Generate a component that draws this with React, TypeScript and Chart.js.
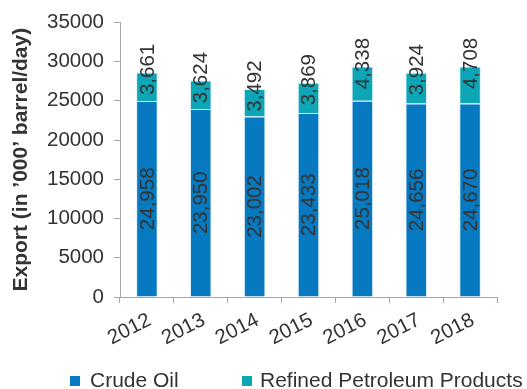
import React, { useEffect, useRef } from "react";
import { Chart, registerables } from "chart.js";

Chart.register(...registerables);

const years = ["2012", "2013", "2014", "2015", "2016", "2017", "2018"];
const crudeOil = [24958, 23950, 23002, 23433, 25018, 24656, 24670];
const refinedProducts = [3661, 3624, 3492, 3869, 4338, 3924, 4708];
const seriesNames = ["Crude Oil", "Refined Petroleum Products"];
const yMin = 0;
const yMax = 35000;
const yStep = 5000;
const yTitle = "Export (in \u2019000\u2019 barrel/day)";

const CRUDE = "#0779c1";
const REFINED = "#0ca6b6";
const AXIS = "#a6a6a6";
const TEXT = "#333333";
const FONT = "'Liberation Sans', Arial, Helvetica, sans-serif";

const barLabels = {
  id: "barLabels",
  afterDatasetsDraw(chart: any) {
    const ctx = chart.ctx;
    ctx.save();
    ctx.font = `20.5px ${FONT}`;
    ctx.fillStyle = TEXT;
    ctx.textAlign = "center";
    ctx.textBaseline = "middle";
    chart.data.datasets.forEach((ds: any, di: number) => {
      const meta = chart.getDatasetMeta(di);
      meta.data.forEach((bar: any, i: number) => {
        const { x, y, base } = bar.getProps(["x", "y", "base"], true);
        const v = ds.data[i] as number;
        const cy = di === 0 ? (y + base) / 2 : y - 3;
        ctx.save();
        ctx.translate(x + 1, cy);
        ctx.rotate(-Math.PI / 2);
        ctx.fillText(v.toLocaleString("en-US"), 0, 0);
        ctx.restore();
      });
    });
    ctx.restore();
  },
};

export default function App() {
  const ref = useRef<HTMLCanvasElement>(null);

  useEffect(() => {
    if (!ref.current) return;
    const chart = new Chart(ref.current, {
      type: "bar",
      data: {
        labels: years,
        datasets: [
          {
            label: seriesNames[0],
            data: crudeOil,
            backgroundColor: CRUDE,
            borderColor: "rgba(190,225,245,0.6)",
            borderWidth: 1,
            barPercentage: 0.4,
            categoryPercentage: 1,
          },
          {
            label: seriesNames[1],
            data: refinedProducts,
            backgroundColor: REFINED,
            borderColor: "rgba(190,225,245,0.6)",
            borderWidth: 1,
            barPercentage: 0.4,
            categoryPercentage: 1,
          },
        ],
      },
      options: {
        responsive: false,
        animation: false,
        layout: { padding: { top: 17, right: 30, bottom: 32, left: 0 } },
        plugins: {
          legend: { display: false },
          tooltip: { enabled: false },
        },
        scales: {
          x: {
            stacked: true,
            grid: {
              offset: true,
              drawOnChartArea: false,
              drawTicks: true,
              tickLength: 6,
              color: AXIS,
            },
            border: { display: true, color: AXIS },
            ticks: {
              color: TEXT,
              font: { family: FONT, size: 20.5 },
              minRotation: 27,
              maxRotation: 27,
              autoSkip: false,
              padding: 5,
              labelOffset: 3,
            },
            afterFit: (s: any) => {
              s.height = 60;
            },
          },
          y: {
            stacked: true,
            min: yMin,
            max: yMax,
            grid: {
              drawOnChartArea: false,
              drawTicks: true,
              tickLength: 6,
              color: AXIS,
            },
            border: { display: true, color: AXIS },
            ticks: {
              stepSize: yStep,
              color: TEXT,
              font: { family: FONT, size: 20.5 },
              padding: 10,
              callback: (v: any) => String(v),
            },
            title: {
              display: true,
              text: yTitle,
              color: TEXT,
              font: { family: FONT, size: 21, weight: "bold" },
              padding: { top: 9, bottom: 0 },
            },
            afterFit: (s: any) => {
              s.width = 120;
            },
          },
        },
      },
      plugins: [barLabels],
    });
    return () => chart.destroy();
  }, []);

  const legendText: React.CSSProperties = {
    position: "absolute",
    top: 366,
    fontFamily: FONT,
    fontSize: 21,
    lineHeight: "28px",
    color: TEXT,
    whiteSpace: "nowrap",
  };
  const box = (left: number, color: string): React.CSSProperties => ({
    position: "absolute",
    left,
    top: 376,
    width: 10,
    height: 10,
    background: color,
  });

  return (
    <div style={{ position: "absolute", left: 0, top: 0, width: 527, height: 389, background: "#fff" }}>
      <canvas ref={ref} width={527} height={389} style={{ display: "block" }} />
      <div style={box(70, CRUDE)} />
      <div style={{ ...legendText, left: 90 }}>{seriesNames[0]}</div>
      <div style={box(242, REFINED)} />
      <div style={{ ...legendText, left: 260 }}>{seriesNames[1]}</div>
    </div>
  );
}
